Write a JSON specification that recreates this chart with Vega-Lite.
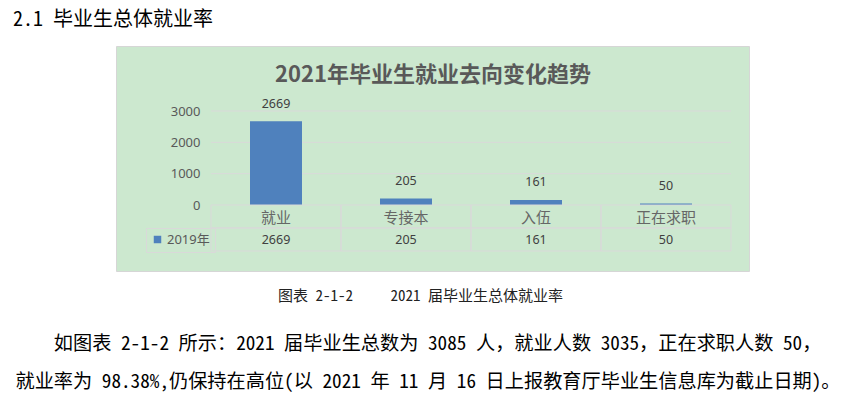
{
  "$schema": "https://vega.github.io/schema/vega-lite/v6.json",
  "width": 633,
  "height": 225,
  "autosize": {"type": "none"},
  "padding": {"left": 116, "top": 46, "right": 93, "bottom": 128},
  "background": "white",
  "title": {
    "text": "2.1 毕业生总体就业率",
    "anchor": "start",
    "frame": "group",
    "dx": -103,
    "offset": 6,
    "baseline": "middle",
    "fontSize": 20,
    "font": "Noto Sans Mono CJK SC, Noto Sans CJK SC",
    "fontWeight": "normal",
    "color": "#000000"
  },
  "config": {
    "view": {"fill": "#cce8cf", "stroke": "#d6d6d6", "strokeWidth": 1}
  },
  "datasets": {
    "bars": [
      {"类别": "就业", "人数": 2669, "系列": "2019年"},
      {"类别": "专接本", "人数": 205, "系列": "2019年"},
      {"类别": "入伍", "人数": 161, "系列": "2019年"},
      {"类别": "正在求职", "人数": 50, "系列": "2019年"}
    ],
    "cells": [
      {"类别": "就业", "系列": "表头"},
      {"类别": "专接本", "系列": "表头"},
      {"类别": "入伍", "系列": "表头"},
      {"类别": "正在求职", "系列": "表头"},
      {"类别": "就业", "系列": "2019年"},
      {"类别": "专接本", "系列": "2019年"},
      {"类别": "入伍", "系列": "2019年"},
      {"类别": "正在求职", "系列": "2019年"}
    ],
    "grid": [{"刻度": 1000}, {"刻度": 2000}, {"刻度": 3000}]
  },
  "layer": [
    {
      "layer": [
        {
          "data": {"name": "grid"},
          "mark": {"type": "rule", "color": "#d9d9d9", "strokeWidth": 1},
          "encoding": {
            "y": {"field": "刻度", "type": "quantitative"},
            "x": {"datum": "就业", "type": "nominal", "bandPosition": 0},
            "x2": {"datum": "正在求职", "bandPosition": 1}
          }
        },
        {
          "data": {"name": "bars"},
          "mark": {"type": "bar", "width": {"band": 0.4}},
          "encoding": {
            "x": {
              "field": "类别",
              "type": "nominal",
              "sort": null,
              "scale": {"domain": ["就业", "专接本", "入伍", "正在求职"], "range": [95, 615], "paddingInner": 0, "paddingOuter": 0},
              "axis": {
                "orient": "bottom",
                "offset": -66,
                "bandPosition": 0.5,
                "domain": false,
                "ticks": false,
                "labelAngle": 0,
                "labelAlign": "center",
                "labelFlush": false,
                "labelPadding": 12,
                "labelBaseline": "middle",
                "labelFontSize": 15,
                "labelFont": "Noto Sans CJK SC",
                "labelColor": "#666666",
                "title": [
                  "\u2060\u3000\u3000如图表 2-1-2 所示：2021 届毕业生总数为 3085 人，就业人数 3035，正在求职人数 50，",
                  "就业率为 98.38%,仍保持在高位(以 2021 年 11 月 16 日上报教育厅毕业生信息库为截止日期)。"
                ],
                "titleX": -101,
                "titleY": 129,
                "titleAlign": "left",
                "titleBaseline": "top",
                "titleFontSize": 19.2,
                "titleFontWeight": "normal",
                "titleFont": "Noto Sans Mono CJK SC, Noto Sans CJK SC",
                "titleColor": "#000000",
                "titleLineHeight": 38
              }
            },
            "y": {
              "field": "人数",
              "type": "quantitative",
              "scale": {"domain": [0, 3000], "range": [159, 65], "nice": false, "zero": true},
              "axis": {
                "orient": "left",
                "offset": -95,
                "values": [0, 1000, 2000, 3000],
                "format": "d",
                "domain": false,
                "ticks": false,
                "grid": false,
                "labelPadding": 11,
                "labelFontSize": 13,
                "labelFont": "Noto Sans",
                "labelColor": "#595959",
                "title": "2021年毕业生就业去向变化趋势",
                "titleAngle": 0,
                "titleAlign": "center",
                "titleBaseline": "middle",
                "titleX": 221.5,
                "titleY": 28,
                "titleFontSize": 22,
                "titleFontWeight": "bold",
                "titleFont": "Noto Sans CJK SC",
                "titleColor": "#595959"
              }
            },
            "color": {
              "field": "系列",
              "type": "nominal",
              "scale": {"range": ["#4f81bd"]},
              "legend": {
                "orient": "none",
                "legendX": 30,
                "legendY": 182,
                "title": null,
                "symbolType": "square",
                "symbolSize": 56,
                "symbolStrokeWidth": 0,
                "labelFontSize": 13,
                "labelFont": "Noto Sans, Noto Sans CJK SC",
                "labelColor": "#595959",
                "labelOffset": 3,
                "padding": 5,
                "strokeColor": "#d9d9d9"
              }
            }
          }
        },
        {
          "data": {"name": "bars"},
          "mark": {"type": "text", "baseline": "middle", "dy": -17.5, "fontSize": 12.5, "font": "Noto Sans", "color": "#404040"},
          "encoding": {
            "x": {"field": "类别", "type": "nominal"},
            "y": {"field": "人数", "type": "quantitative"},
            "text": {"field": "人数", "type": "quantitative"}
          }
        }
      ]
    },
    {
      "layer": [
        {
          "data": {"name": "cells"},
          "mark": {"type": "rect", "fill": "transparent", "stroke": "#d9d9d9", "strokeWidth": 1},
          "encoding": {
            "x": {"field": "类别", "type": "nominal"},
            "y": {
              "field": "系列",
              "type": "nominal",
              "scale": {"domain": ["表头", "2019年"], "range": [159, 205], "paddingInner": 0, "paddingOuter": 0},
              "axis": {
                "orient": "left",
                "labels": false,
                "ticks": false,
                "domain": false,
                "grid": false,
                "title": "图表 2-1-2　　 2021 届毕业生总体就业率",
                "titleAngle": 0,
                "titleAlign": "center",
                "titleBaseline": "middle",
                "titleX": 304,
                "titleY": 249,
                "titleFontSize": 15,
                "titleFontWeight": "normal",
                "titleFont": "Noto Sans Mono CJK SC, Noto Sans CJK SC",
                "titleColor": "#222222"
              }
            }
          }
        },
        {
          "data": {"name": "bars"},
          "mark": {"type": "text", "baseline": "middle", "fontSize": 12.5, "font": "Noto Sans", "color": "#404040"},
          "encoding": {
            "x": {"field": "类别", "type": "nominal"},
            "y": {"field": "系列", "type": "nominal"},
            "text": {"field": "人数", "type": "quantitative"}
          }
        }
      ]
    }
  ],
  "resolve": {"scale": {"y": "independent"}}
}
